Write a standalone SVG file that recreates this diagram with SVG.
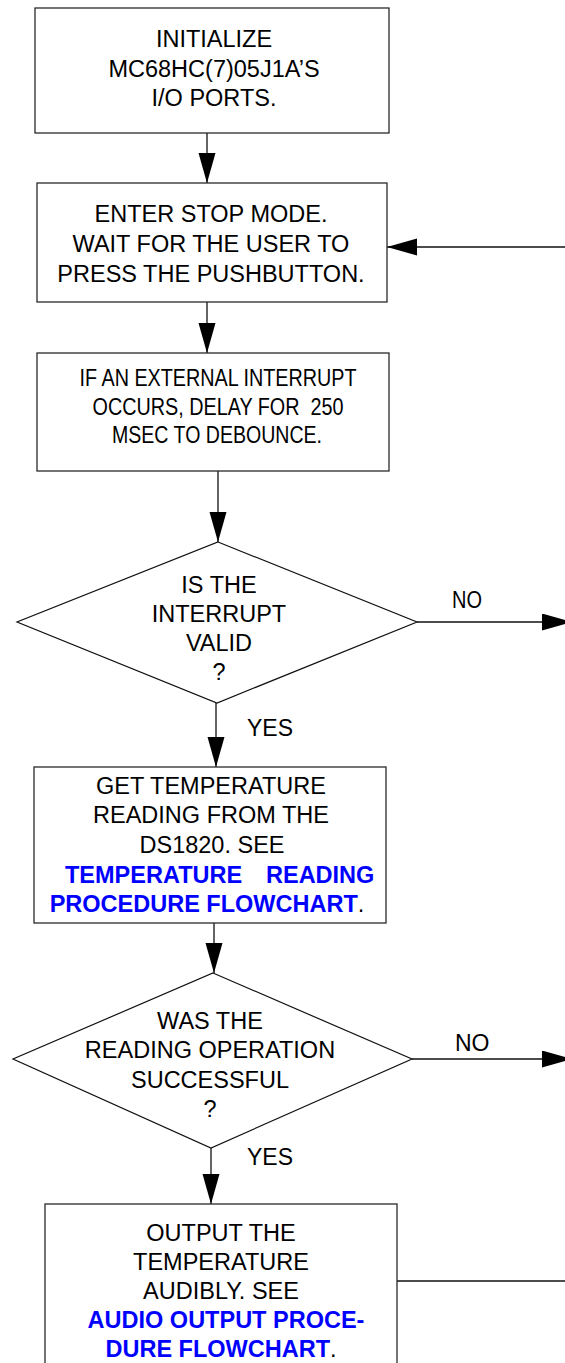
<svg xmlns="http://www.w3.org/2000/svg" width="565" height="1363" viewBox="0 0 565 1363">
  <style>
    .box { fill: #ffffff; stroke: #2a2a2a; stroke-width: 1.3; }
    .dia { fill: #ffffff; stroke: #111111; stroke-width: 1.2; }
    .wire { fill: none; stroke: #111111; stroke-width: 1.3; }
    .t { font-family: "Liberation Sans", Arial, sans-serif; font-size: 23.5px; fill: #000000; text-anchor: middle; }
    .n { font-family: "Liberation Sans Narrow", "Arial Narrow", "Liberation Sans", sans-serif; font-stretch: condensed; font-size: 23.5px; fill: #000000; text-anchor: middle; white-space: pre; }
    .link { font-family: "Liberation Sans", Arial, sans-serif; font-size: 23.5px; font-weight: bold; fill: #0000ff; }
    .lbl { font-family: "Liberation Sans", Arial, sans-serif; font-size: 23px; fill: #000000; }
  </style>
  <defs>
    <marker id="head" markerUnits="userSpaceOnUse" markerWidth="31" markerHeight="18" refX="30" refY="8.5" orient="auto">
      <path d="M0,0 L30,8.5 L0,17 Z" fill="#000000"/>
    </marker>
  </defs>

  <!-- connectors -->
  <g id="connectors">
    <line class="wire" x1="207" y1="133" x2="207" y2="183" marker-end="url(#head)"/>
    <line class="wire" x1="207" y1="302" x2="207" y2="353" marker-end="url(#head)"/>
    <line class="wire" x1="218" y1="471" x2="218" y2="542" marker-end="url(#head)"/>
    <line class="wire" x1="216" y1="703" x2="216" y2="767" marker-end="url(#head)"/>
    <line class="wire" x1="214" y1="923" x2="214" y2="973" marker-end="url(#head)"/>
    <line class="wire" x1="211" y1="1148" x2="211" y2="1204" marker-end="url(#head)"/>
    <line class="wire" x1="417" y1="622" x2="572" y2="622" marker-end="url(#head)"/>
    <line class="wire" x1="412" y1="1059" x2="572" y2="1059" marker-end="url(#head)"/>
    <line class="wire" x1="570" y1="247" x2="387" y2="247" marker-end="url(#head)"/>
    <line class="wire" x1="397" y1="1281" x2="570" y2="1281"/>
    <text class="n" x="467" y="608" textLength="30" lengthAdjust="spacingAndGlyphs">NO</text>
    <text class="lbl" x="455" y="1051">NO</text>
    <text class="lbl" x="247" y="736">YES</text>
    <text class="lbl" x="247" y="1165">YES</text>
  </g>

  <!-- initialise ports -->
  <g id="init">
    <rect class="box" x="35" y="8" width="354" height="125"/>
    <text class="t" x="214" y="47">INITIALIZE</text>
    <text class="t" x="214" y="77">MC68HC(7)05J1A’S</text>
    <text class="t" x="214" y="106">I/O PORTS.</text>
  </g>

  <!-- stop mode -->
  <g id="stop">
    <rect class="box" x="37" y="183" width="350" height="119"/>
    <text class="t" x="211" y="222">ENTER STOP MODE.</text>
    <text class="t" x="211" y="252">WAIT FOR THE USER TO</text>
    <text class="t" x="211" y="282">PRESS THE PUSHBUTTON.</text>
  </g>

  <!-- debounce -->
  <g id="debounce">
    <rect class="box" x="37" y="353" width="352" height="118"/>
    <text class="n" x="218" y="386" textLength="277" lengthAdjust="spacingAndGlyphs">IF AN EXTERNAL INTERRUPT</text>
    <text class="n" x="218" y="415" textLength="251" lengthAdjust="spacingAndGlyphs" xml:space="preserve">OCCURS, DELAY FOR  250</text>
    <text class="n" x="217" y="443" textLength="210" lengthAdjust="spacingAndGlyphs">MSEC TO DEBOUNCE.</text>
  </g>

  <!-- interrupt valid? -->
  <g id="valid">
    <polygon class="dia" points="218,542 417,622 217,703 17,622"/>
    <text class="t" x="219" y="593">IS THE</text>
    <text class="t" x="219" y="622">INTERRUPT</text>
    <text class="t" x="219" y="651">VALID</text>
    <text class="t" x="219" y="680">?</text>
  </g>

  <!-- read temperature -->
  <g id="read">
    <rect class="box" x="34" y="767" width="352" height="156"/>
    <text class="t" x="211" y="794">GET TEMPERATURE</text>
    <text class="t" x="211" y="823">READING FROM THE</text>
    <text class="t" x="212" y="853">DS1820. SEE</text>
    <text class="link" x="65" y="883">TEMPERATURE</text>
    <text class="link" x="266" y="883">READING</text>
    <text class="t" x="207" y="912"><tspan class="link">PROCEDURE FLOWCHART</tspan>.</text>
  </g>

  <!-- reading ok? -->
  <g id="ok">
    <polygon class="dia" points="213,973 412,1059 211,1148 13,1059"/>
    <text class="t" x="210" y="1029">WAS THE</text>
    <text class="t" x="210" y="1058">READING OPERATION</text>
    <text class="t" x="210" y="1088">SUCCESSFUL</text>
    <text class="t" x="210" y="1117">?</text>
  </g>

  <!-- audio output -->
  <g id="audio">
    <rect class="box" x="45" y="1204" width="352" height="170"/>
    <text class="t" x="221" y="1241">OUTPUT THE</text>
    <text class="t" x="221" y="1270">TEMPERATURE</text>
    <text class="t" x="221" y="1299">AUDIBLY. SEE</text>
    <text class="t" x="226" y="1328"><tspan class="link">AUDIO OUTPUT PROCE-</tspan></text>
    <text class="t" x="221" y="1357"><tspan class="link">DURE FLOWCHART</tspan>.</text>
  </g>
</svg>
